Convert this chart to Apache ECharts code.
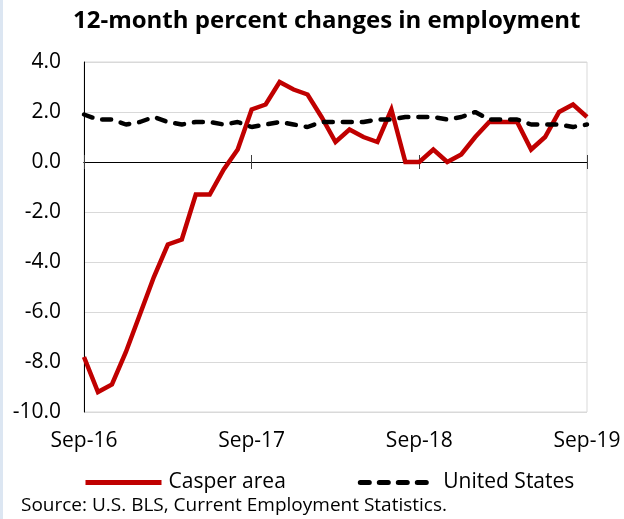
<!DOCTYPE html>
<html><head><meta charset="utf-8">
<script src="https://cdn.jsdelivr.net/npm/echarts@6/dist/echarts.min.js"></script>
<style>
html,body{margin:0;padding:0;background:#fff;}
#c{width:624px;height:519px;position:relative;}
#strip{position:absolute;left:0;top:0;width:3px;height:519px;background:#dce6f2;z-index:5;}
</style></head>
<body><div id="strip"></div><div id="c"></div>
<script>
const categories = ['Sep-16','Oct-16','Nov-16','Dec-16','Jan-17','Feb-17','Mar-17','Apr-17','May-17','Jun-17','Jul-17','Aug-17',
 'Sep-17','Oct-17','Nov-17','Dec-17','Jan-18','Feb-18','Mar-18','Apr-18','May-18','Jun-18','Jul-18','Aug-18',
 'Sep-18','Oct-18','Nov-18','Dec-18','Jan-19','Feb-19','Mar-19','Apr-19','May-19','Jun-19','Jul-19','Aug-19','Sep-19'];
const casperArea = [-7.8,-9.2,-8.9,-7.6,-6.1,-4.6,-3.3,-3.1,-1.3,-1.3,-0.3,0.5,
 2.1,2.3,3.2,2.9,2.7,1.8,0.8,1.3,1.0,0.8,2.1,0.0,
 0.0,0.5,0.0,0.3,1.0,1.6,1.6,1.6,0.5,1.0,2.0,2.3,1.8];
const unitedStates = [1.9,1.7,1.7,1.5,1.6,1.8,1.6,1.5,1.6,1.6,1.5,1.6,
 1.4,1.5,1.6,1.5,1.4,1.6,1.6,1.6,1.6,1.7,1.7,1.8,
 1.8,1.8,1.7,1.8,2.0,1.7,1.7,1.7,1.5,1.5,1.5,1.4,1.5];
const seriesNames = ['Casper area','United States'];
const titleText = '12-month percent changes in employment';
const sourceText = 'Source: U.S. BLS, Current Employment Statistics.';

const FONT = '"Open Sans", sans-serif';
const chart = echarts.init(document.getElementById('c'), null, {renderer:'canvas'});
const hiddenZeroAxis = (inside) => ({
  type:'category', data:categories, boundaryGap:false, position:'bottom',
  axisLine:{show:true, onZero:true, onZeroAxisIndex:0, lineStyle:{color:'#000', width:1}},
  axisTick:{show:true, inside:inside, length:7, interval:11, lineStyle:{color:'#404040', width:1}},
  axisLabel:{show:false}, splitLine:{show:false}
});
chart.setOption({
  animation:false,
  backgroundColor:'#fff',
  title:{text:titleText, left:68, top:4,
    textStyle:{fontFamily:FONT, fontWeight:'bold', fontSize:24, color:'#000'}},
  grid:{left:84, right:37, top:62, bottom:107, show:true, borderColor:'#d9d9d9', borderWidth:1},
  legend:{
    data:seriesNames, left:78, top:467, itemWidth:76, itemHeight:10, itemGap:72,
    itemStyle:{opacity:0}, lineStyle:{width:5},
    textStyle:{fontFamily:FONT, fontSize:21, color:'#000', padding:[0,0,0,2]}
  },
  xAxis:[
    {type:'category', data:categories, boundaryGap:false,
     axisLine:{show:false, onZero:false}, axisTick:{show:false},
     axisLabel:{interval:11, margin:19, fontFamily:FONT, fontSize:21, color:'#000'},
     splitLine:{show:false}},
    hiddenZeroAxis(false),
    hiddenZeroAxis(true)
  ],
  yAxis:{type:'value', min:-10, max:4, interval:2,
    axisLine:{show:true, lineStyle:{color:'#000', width:1}}, axisTick:{show:false},
    axisLabel:{formatter:v=>v.toFixed(1), margin:23, fontFamily:FONT, fontSize:21, color:'#000'},
    splitLine:{lineStyle:{color:'#d9d9d9', width:1}}},
  graphic:[{type:'text', left:21, top:496, style:{text:sourceText, fontFamily:FONT, fontSize:19, fill:'#000'}}],
  series:[
    {name:seriesNames[0], type:'line', data:casperArea, xAxisIndex:0, symbol:'none', z:3,
     lineStyle:{color:'#c00000', width:4.5, join:'miter'}, itemStyle:{color:'#c00000'}},
    {name:seriesNames[1], type:'line', data:unitedStates, xAxisIndex:0, symbol:'none', z:4,
     lineStyle:{color:'#000', width:4.5, type:[9,10], cap:'round'}, itemStyle:{color:'#000'}}
  ]
});
</script></body></html>
